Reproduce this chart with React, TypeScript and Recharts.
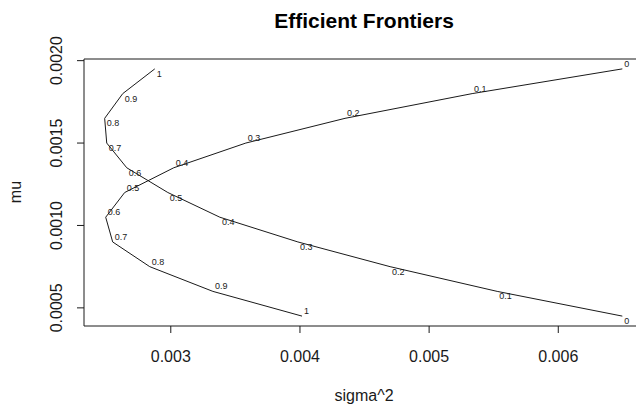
import { ScatterChart, Scatter, XAxis, YAxis, ReferenceArea } from 'recharts';

// portfolio weight labels shown next to each point
const weights = ['0', '0.1', '0.2', '0.3', '0.4', '0.5', '0.6', '0.7', '0.8', '0.9', '1'];

// frontier A (top-right "0" bending round to bottom "1")
const sigmaA = [0.006496, 0.005333, 0.004349, 0.003581, 0.003023, 0.002643, 0.002496, 0.00255, 0.002837, 0.003326, 0.004016];
const muA = [0.00195, 0.0018, 0.00165, 0.0015, 0.00135, 0.0012, 0.00105, 0.0009, 0.00075, 0.0006, 0.00045];

// frontier B (bottom-right "0" bending round to top "1")
const sigmaB = [0.006496, 0.005527, 0.004698, 0.003984, 0.00338, 0.002977, 0.002659, 0.002504, 0.002488, 0.002628, 0.002876];
const muB = [0.00045, 0.0006, 0.00075, 0.0009, 0.00105, 0.0012, 0.00135, 0.0015, 0.00165, 0.0018, 0.00195];

const xTicks = [0.003, 0.004, 0.005, 0.006];
const yTicks = [0.0005, 0.001, 0.0015, 0.002];
const xLim: [number, number] = [0.002328, 0.006656];
const yLim: [number, number] = [0.00039, 0.00201];

const dataA = weights.map((w, i) => ({ w, x: sigmaA[i], y: muA[i] }));
const dataB = weights.map((w, i) => ({ w, x: sigmaB[i], y: muB[i] }));

const FONT = 'Arial, "Liberation Sans", sans-serif';
const INK = '#1a1a1a';

const pointLabel = (dy: number) => (props: any) => (
  <text x={props.cx + 2} y={props.cy + dy} fontSize={9} fontFamily={FONT} fill={INK}>
    {props.payload.w}
  </text>
);

const XTick = (props: any) => (
  <text x={props.x} y={props.y + 29} textAnchor="middle" fontSize={16} fontFamily={FONT} fill={INK}>
    {props.payload.value.toFixed(3)}
  </text>
);

const YTick = (props: any) => {
  const x = props.x - 15;
  return (
    <text x={x} y={props.y} transform={`rotate(-90 ${x} ${props.y})`} textAnchor="middle" fontSize={16} fontFamily={FONT} fill={INK}>
      {props.payload.value.toFixed(4)}
    </text>
  );
};

export default function App() {
  return (
    <div style={{ position: 'absolute', left: 0, top: 0, width: 636, height: 406, overflow: 'hidden', background: '#fff' }}>
      <ScatterChart width={660} height={406} margin={{ top: 59, right: 17, bottom: 0, left: 0 }}>
        <XAxis
          type="number"
          dataKey="x"
          domain={xLim}
          ticks={xTicks}
          allowDataOverflow
          height={80}
          axisLine={false}
          tickSize={7}
          tickMargin={0}
          tickLine={{ stroke: INK }}
          tick={<XTick />}
        />
        <YAxis
          type="number"
          dataKey="y"
          domain={yLim}
          ticks={yTicks}
          allowDataOverflow
          width={84}
          axisLine={false}
          tickSize={7}
          tickMargin={0}
          tickLine={{ stroke: INK }}
          tick={<YTick />}
        />
        <ReferenceArea x1={xLim[0]} x2={xLim[1]} y1={yLim[0]} y2={yLim[1]} fill="none" stroke={INK} strokeWidth={1} fillOpacity={0} />
        <Scatter data={dataA} line={{ stroke: INK, strokeWidth: 1 }} shape={pointLabel(-2)} isAnimationActive={false} />
        <Scatter data={dataB} line={{ stroke: INK, strokeWidth: 1 }} shape={pointLabel(8)} isAnimationActive={false} />
        <text x={364} y={28} textAnchor="middle" fontSize={21} fontWeight="bold" fontFamily={FONT} fill="#000">
          Efficient Frontiers
        </text>
        <text x={364} y={401} textAnchor="middle" fontSize={16} fontFamily={FONT} fill={INK}>
          sigma^2
        </text>
        <text x={21} y={192} transform="rotate(-90 21 192)" textAnchor="middle" fontSize={16} fontFamily={FONT} fill={INK}>
          mu
        </text>
      </ScatterChart>
    </div>
  );
}
